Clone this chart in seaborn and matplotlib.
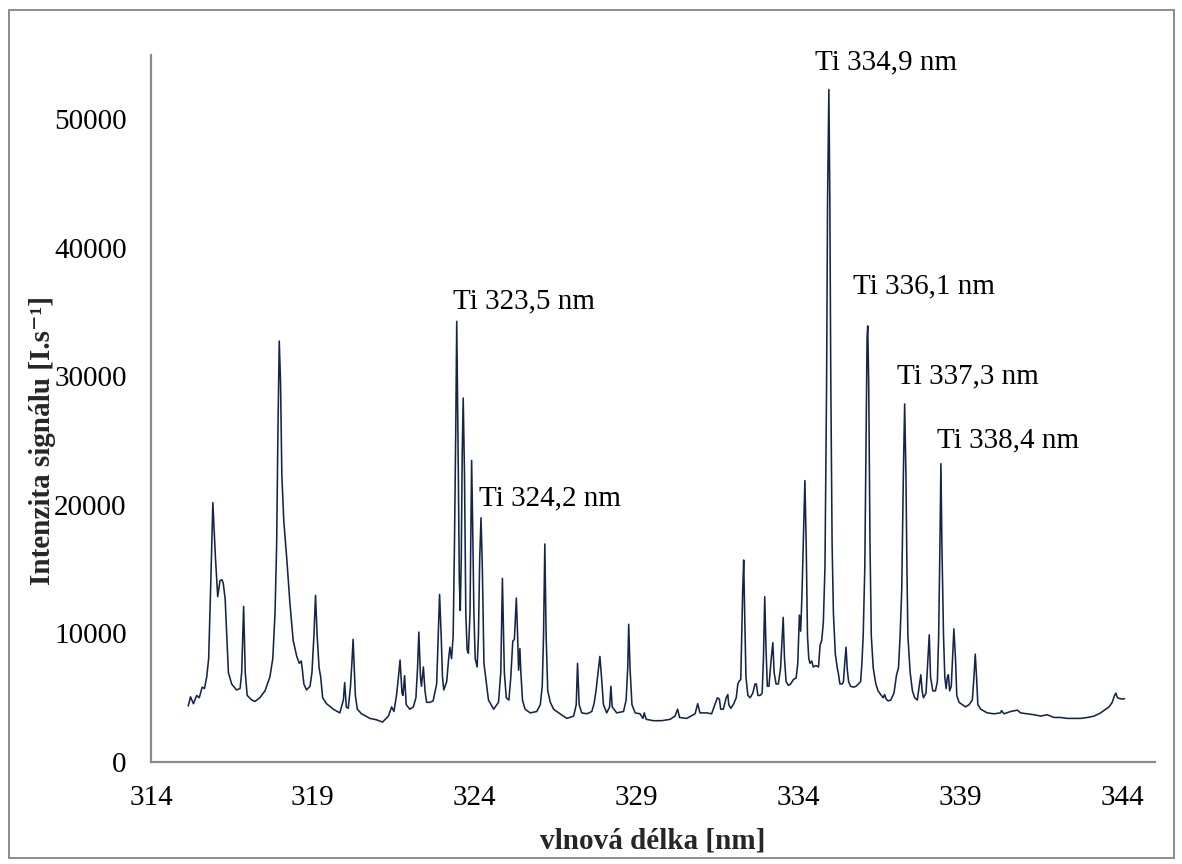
import numpy as np
import pandas as pd
import matplotlib
matplotlib.use("Agg")
import matplotlib.pyplot as plt
from matplotlib.patches import Rectangle
import seaborn as sns

# Emission spectrum, wavelength [nm] and signal intensity [counts/s]
wl_a = [315.15, 315.22, 315.31, 315.41, 315.49, 315.58, 315.65, 315.72, 315.78, 315.84,
        315.91, 315.99, 316.06, 316.13, 316.19, 316.23, 316.29, 316.34, 316.39, 316.49,
        316.64, 316.75, 316.80, 316.86, 316.91, 316.97, 317.11, 317.21, 317.36, 317.52,
        317.67, 317.76, 317.83, 317.88, 317.92, 317.96, 318.00, 318.04, 318.10, 318.19,
        318.29, 318.39, 318.50, 318.58, 318.64, 318.67, 318.72, 318.80, 318.91, 318.97,
        319.03, 319.08, 319.13, 319.19, 319.24, 319.30, 319.42, 319.63, 319.83, 319.94,
        319.98, 320.03, 320.09, 320.16, 320.21, 320.24, 320.31, 320.37, 320.50, 320.76,
        320.96, 321.15, 321.33, 321.43, 321.50, 321.58, 321.64, 321.69, 321.75, 321.78,
        321.83, 321.88, 321.99, 322.10, 322.18, 322.23, 322.27, 322.32, 322.35, 322.41,
        322.46, 322.51, 322.61, 322.71, 322.82, 322.87, 322.91, 322.96, 323.00, 323.04,
        323.13, 323.19, 323.23, 323.28, 323.33, 323.37, 323.41, 323.44, 323.49, 323.52,
        323.55, 323.58, 323.61, 323.64, 323.68, 323.72, 323.76, 323.80, 323.85, 323.88,
        323.90, 323.93, 323.97, 324.01, 324.07, 324.11, 324.15, 324.19, 324.23]
int_a = [4357, 5071, 4535, 5178, 4999, 5821, 5714, 6606, 8035, 13391,
         20176, 15891, 12856, 14105, 14177, 13927, 12677, 9820, 6963, 6071,
         5606, 5714, 6963, 12106, 6963, 5178, 4821, 4714, 4999, 5535,
         6606, 8035, 11606, 16962, 25890, 32746, 29461, 22319, 18748, 15891,
         12320, 9463, 8213, 7678, 7856, 7249, 6071, 5606, 5892, 6963,
         9820, 12963, 9820, 7321, 6606, 4999, 4535, 4107, 3821, 4821,
         6178, 4285, 4178, 5892, 8035, 9535, 5178, 4107, 3750, 3392,
         3285, 3107, 3571, 4285, 3928, 5178, 6606, 7928, 5356, 5178,
         6713, 4464, 4107, 4285, 4999, 7321, 10106, 6606, 5892, 7392,
         5535, 4642, 4642, 4749, 6071, 9820, 13034, 9820, 6606, 5606,
         6249, 8035, 8928, 8035, 9820, 16962, 25890, 34282, 22319, 14105,
         11784, 15891, 24104, 28318, 22319, 11606, 8749, 8463, 11606, 18748,
         23461, 18748, 11606, 8035, 7392, 9820, 15891, 18998, 15177]

wl_b = [324.28, 324.42, 324.58, 324.73, 324.80, 324.85, 324.91, 324.97, 325.05, 325.11,
        325.17, 325.22, 325.28, 325.32, 325.35, 325.39, 325.42, 325.47, 325.55, 325.71,
        325.91, 326.02, 326.08, 326.12, 326.16, 326.20, 326.25, 326.33, 326.43, 326.63,
        326.84, 327.05, 327.13, 327.17, 327.22, 327.30, 327.46, 327.61, 327.68, 327.74,
        327.82, 327.86, 327.91, 327.97, 328.07, 328.16, 328.20, 328.24, 328.38, 328.59,
        328.67, 328.72, 328.75, 328.79, 328.85, 328.95, 329.10, 329.19, 329.23, 329.29,
        329.51, 329.77, 330.03, 330.18, 330.26, 330.32, 330.54, 330.80, 330.88, 330.95,
        331.16, 331.31, 331.42, 331.49, 331.55, 331.59, 331.67, 331.76, 331.81, 331.84,
        331.90, 331.98, 332.07, 332.12, 332.15, 332.21, 332.24, 332.27, 332.30, 332.33,
        332.37, 332.43, 332.50, 332.58, 332.65, 332.69, 332.74, 332.81, 332.87, 332.91,
        332.95, 332.99, 333.03, 333.08, 333.15, 333.20, 333.24, 333.30, 333.37, 333.44,
        333.49, 333.52, 333.56, 333.61, 333.68, 333.75, 333.84, 333.92, 333.97, 334.02,
        334.06, 334.10, 334.14, 334.19, 334.23, 334.27, 334.31, 334.35, 334.40, 334.45,
        334.53, 334.61, 334.66, 334.71, 334.76, 334.81, 334.86, 334.89, 334.93, 334.96,
        334.99, 335.03, 335.07, 335.13, 335.19, 335.23, 335.27, 335.34, 335.38, 335.42,
        335.46, 335.50, 335.54, 335.60, 335.69, 335.77, 335.84, 335.91, 335.95, 335.99,
        336.04, 336.08, 336.11, 336.13]
int_b = [7678, 4821, 4107, 4642, 6963, 14284, 6963, 4999, 4821, 6606,
         9392, 9535, 12748, 9820, 7142, 8820, 6963, 4821, 4107, 3821,
         3928, 4464, 5892, 9820, 16962, 9820, 5535, 4642, 4107, 3750,
         3392, 3571, 4464, 7678, 4464, 3821, 3750, 3928, 4535, 5535,
         7321, 8213, 6606, 4464, 3821, 4285, 5892, 4285, 3821, 3928,
         4821, 7321, 10713, 7321, 4464, 3821, 3750, 3392, 3821, 3321,
         3214, 3214, 3321, 3571, 4107, 3464, 3392, 3750, 4535, 3821,
         3821, 3750, 4535, 4999, 4892, 4107, 4107, 4999, 5249, 4464,
         4178, 4464, 4999, 6071, 6249, 6428, 9820, 13391, 15712, 11606,
         6606, 5178, 4999, 5356, 6071, 6071, 5178, 5178, 5356, 8035,
         12856, 8749, 5892, 5892, 8035, 9285, 6963, 6071, 6071, 7321,
         9820, 11249, 8035, 6249, 5964, 6071, 6428, 6535, 7678, 11427,
         10177, 13034, 16962, 21890, 16962, 9820, 8035, 7678, 7856, 7392,
         7499, 7392, 9106, 9463, 10892, 15177, 29461, 43745, 52315, 43745,
         29461, 16962, 11606, 8392, 7321, 6785, 6071, 6071, 6249, 7678,
         8928, 7142, 6249, 5892, 5821, 5892, 6071, 6249, 7678, 9820,
         15177, 25890, 33032, 33925]

wl_c = [336.16, 336.20, 336.24, 336.30, 336.38, 336.45, 336.53, 336.61, 336.65, 336.70,
        336.76, 336.84, 336.94, 337.02, 337.08, 337.13, 337.18, 337.23, 337.27, 337.31,
        337.34, 337.37, 337.44, 337.51, 337.58, 337.66, 337.72, 337.77, 337.81, 337.85,
        337.93, 337.99, 338.03, 338.07, 338.14, 338.22, 338.28, 338.32, 338.36, 338.39,
        338.42, 338.47, 338.51, 338.55, 338.59, 338.62, 338.66, 338.71, 338.75, 338.79,
        338.84, 338.88, 338.95, 339.05, 339.15, 339.26, 339.36, 339.41, 339.45, 339.49,
        339.53, 339.62, 339.82, 340.03, 340.23, 340.26, 340.34, 340.54, 340.75, 340.85,
        341.06, 341.26, 341.47, 341.67, 341.88, 342.09, 342.29, 342.50, 342.70, 342.91,
        343.12, 343.32, 343.48, 343.58, 343.68, 343.75, 343.79, 343.84, 343.92, 343.99,
        344.06]
int_c = [29461, 16962, 9820, 7321, 6071, 5535, 5249, 4999, 5249, 4892,
         4749, 4821, 5356, 6785, 7321, 9820, 13391, 22319, 27854, 22319,
         15177, 9820, 6963, 5535, 4999, 4821, 5892, 6785, 5535, 4999,
         5356, 8035, 9892, 6606, 5535, 5535, 6249, 9820, 16962, 23211,
         16962, 9820, 6606, 5714, 6606, 6785, 5535, 5892, 8035, 10356,
         8035, 5178, 4642, 4464, 4285, 4464, 4821, 6606, 8392, 6606,
         4464, 4107, 3821, 3750, 3821, 3999, 3750, 3928, 4035, 3821,
         3750, 3678, 3571, 3678, 3464, 3464, 3392, 3392, 3392, 3464,
         3571, 3821, 4107, 4285, 4642, 5178, 5356, 4999, 4928, 4892,
         4928]

# Labelled Ti lines: text, label anchor (wavelength, intensity)
line_labels = ["Ti 323,5 nm", "Ti 324,2 nm", "Ti 334,9 nm",
               "Ti 336,1 nm", "Ti 337,3 nm", "Ti 338,4 nm"]
label_x = [323.31, 324.12, 334.50, 335.67, 337.02, 338.26]
label_y = [35300, 19984, 53900, 36470, 29470, 24494]

x_ticks = [314, 319, 324, 329, 334, 339, 344]
y_ticks = [0, 10000, 20000, 30000, 40000, 50000]

spectrum = pd.DataFrame({
    "wavelength": wl_a + wl_b + wl_c,
    "intensity": int_a + int_b + int_c,
})

sns.set_style("white")
plt.rcParams["font.family"] = ["Liberation Serif", "DejaVu Serif"]

fig = plt.figure(figsize=(11.82, 8.64), dpi=100)
ax = fig.add_axes([151 / 1182, 1 - 762 / 864, (1155 - 151) / 1182, (762 - 55) / 864])

sns.lineplot(data=spectrum, x="wavelength", y="intensity", color="#14254a",
             linewidth=1.15, ax=ax)

ax.set_xlim(314, 345)
ax.set_ylim(0, 55000)
ax.set_xticks(x_ticks)
ax.set_yticks(y_ticks)

axis_grey = "#8c8c8c"
for side in ("top", "right"):
    ax.spines[side].set_visible(False)
for side in ("left", "bottom"):
    ax.spines[side].set_color(axis_grey)
    ax.spines[side].set_linewidth(1.6)
ax.tick_params(axis="both", direction="out", length=6.5, width=1.4,
               color=axis_grey, labelsize=21, labelcolor="black")
ax.tick_params(axis="x", pad=10)
ax.tick_params(axis="y", pad=11)

ax.set_xlabel("vlnová délka [nm]", fontsize=21, fontweight="bold", labelpad=12)
ax.set_ylabel("Intenzita signálu [I.s⁻¹]", fontsize=21, fontweight="bold")
ax.yaxis.set_label_coords(-0.095, 0.455)

for text, tx, ty in zip(line_labels, label_x, label_y):
    ax.text(tx, ty, text, fontsize=21, ha="left", va="baseline", color="black")

# chart-area frame
fig.patches.append(Rectangle((9 / 1182, 6 / 864), 1165 / 1182, 848 / 864,
                             transform=fig.transFigure, fill=False,
                             edgecolor=axis_grey, linewidth=1.4))

fig.savefig("out.png", dpi=100, facecolor="white")
